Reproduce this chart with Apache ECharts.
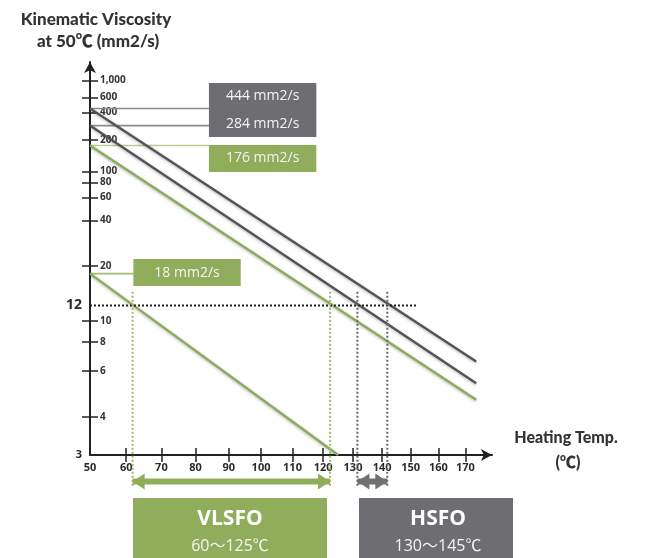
<!DOCTYPE html>
<html>
<head>
<meta charset="utf-8">
<title>Kinematic Viscosity</title>
<script src="https://cdn.jsdelivr.net/npm/echarts@6/dist/echarts.min.js"></script>
<style>
html, body { margin: 0; padding: 0; background: #fff; }
#main { width: 645px; height: 558px; }
</style>
</head>
<body>
<div id="main"></div>
<script>
// 粘温图 (ASTM D341 刻度: x = log(T+273.15), y = log(log(v+0.7)))
var oilLabels = ['444 mm2/s', '284 mm2/s', '176 mm2/s', '18 mm2/s'];
var visc50 = [444, 284, 176, 18];        // 50℃ 时粘度
var tempEnd = [174, 174, 174, 125];      // 线的终点温度
var viscEnd = [6.55, 5.35, 4.62, 3.0];   // 线的终点粘度
var leaderTemp = [84, 84, 84, 62];       // 引线到标签框的温度

var yTickValues = [4, 6, 8, 10, 20, 40, 60, 80, 100, 200, 400, 600, 1000];
var yBoldValues = [3, 12];
var xTickValues = [60, 70, 80, 90, 100, 110, 120, 130, 140, 150, 160, 170];
var xLabelValues = [50, 60, 70, 80, 90, 100, 110, 120, 130, 140, 150, 160, 170];

var limitVisc = 12;
var limitTempEnd = 152.5;
var vlsfoTemps = [61.8, 122.3];
var hsfoTemps = [131.5, 141.8];
var guideTopVisc = 14.2;
var guideBottomVisc = 2.4;
var arrowVisc = 2.5;

var tMin = 50, tMax = 180;
var vMin = 3, vMax = 1800;

// 样式
var oilColors = ['#545457', '#545457', '#8aaa5c', '#8aaa5c'];
var leaderColors = ['#8c8c8e', '#8c8c8e', '#b7cb92', '#9fba72'];
var boxColors = ['#6e6e72', '#6e6e72', '#8fad5b', '#8fad5b'];
var boxOffsets = [-12, -2, 13, -1];
var boxPadding = [[5, 17], [5, 17], [5, 17], [5, 21]];
var GREEN = '#8fad5b', GRAY = '#6e6e72';
var TICK_FONT = '"Open Sans"';

function fx(t) { return Math.log10(t + 273.15); }
function fy(v) { return Math.log10(Math.log10(v + 0.7)); }
function tempText(x) { return String(Math.round(Math.pow(10, x) - 273.15)); }
function viscNum(y) { return Math.round(Math.pow(10, Math.pow(10, y)) - 0.7); }
function viscText(y) {
    var n = viscNum(y);
    return n >= 1000 ? Math.floor(n / 1000) + ',' + String(n % 1000 + 1000).slice(1) : String(n);
}

var series = [];
for (var i = 0; i < visc50.length; i++) {
    // 引线 + 标签框
    series.push({
        type: 'line', silent: true, showSymbol: false, z: 2,
        data: [[fx(tMin), fy(visc50[i])], [fx(leaderTemp[i]), fy(visc50[i])]],
        lineStyle: { color: leaderColors[i], width: 1.6 },
        endLabel: {
            show: true,
            formatter: (function (t) { return function () { return t; }; })(oilLabels[i]),
            distance: 0,
            offset: [0, boxOffsets[i]],
            backgroundColor: boxColors[i],
            color: '#f4f4f4',
            padding: boxPadding[i],
            fontSize: 14,
            lineHeight: 17,
            fontFamily: '"Open Sans"'
        }
    });
    // 粘温线
    series.push({
        type: 'line', silent: true, showSymbol: false, z: 3,
        data: [[fx(tMin), fy(visc50[i])], [fx(tempEnd[i]), fy(viscEnd[i])]],
        lineStyle: { color: oilColors[i], width: 2.4, shadowBlur: 3, shadowColor: 'rgba(0,0,0,0.3)', shadowOffsetY: 1 }
    });
}

// 12 mm2/s 虚线
series.push({
    type: 'line', silent: true, showSymbol: false, z: 4,
    data: [[fx(tMin), fy(limitVisc)], [fx(limitTempEnd), fy(limitVisc)]],
    lineStyle: { type: 'dotted', color: '#222', width: 2 }
});

function guide(t, color) {
    return {
        type: 'line', silent: true, showSymbol: false, clip: false, z: 4,
        data: [[fx(t), fy(guideTopVisc)], [fx(t), fy(guideBottomVisc)]],
        lineStyle: { type: 'dotted', color: color, width: 2 }
    };
}
vlsfoTemps.forEach(function (t) { series.push(guide(t, '#9cb872')); });
hsfoTemps.forEach(function (t) { series.push(guide(t, '#6a6a6e')); });

function arrow(temps, color) {
    return {
        type: 'line', silent: true, clip: false, z: 5,
        symbol: 'triangle', symbolSize: [16, 12], showSymbol: true,
        data: [
            { value: [fx(temps[0]), fy(arrowVisc)], symbolRotate: 90, symbolOffset: [6, 0] },
            { value: [fx(temps[1]), fy(arrowVisc)], symbolRotate: -90, symbolOffset: [-6, 0] }
        ],
        lineStyle: { color: color, width: 6 },
        itemStyle: { color: color }
    };
}
series.push(arrow(vlsfoTemps, GREEN));
series.push(arrow(hsfoTemps, '#707074'));

var axisColor = '#222';
var myChart = echarts.init(document.getElementById('main'));
myChart.setOption({
    animation: false,
    grid: { left: 90, top: 62, width: 402, height: 393 },
    xAxis: [{
        type: 'value', min: fx(tMin), max: fx(tMax),
        axisLine: { show: true, onZero: false, symbol: ['none', 'arrow'], symbolSize: [9, 11], lineStyle: { color: axisColor, width: 2 } },
        axisTick: { show: true, customValues: xTickValues.map(fx), length: 7, lineStyle: { color: axisColor, width: 1.5 } },
        axisLabel: { customValues: xLabelValues.map(fx), formatter: tempText, margin: 7, color: '#2a2a2a', fontFamily: TICK_FONT, fontWeight: 'bold', fontSize: 11 },
        splitLine: { show: false }
    }, {
        type: 'value', position: 'bottom', min: fx(tMin), max: fx(tMax),
        axisLine: { show: false, onZero: false },
        axisTick: { show: true, inside: true, customValues: xTickValues.map(fx), length: 7, lineStyle: { color: axisColor, width: 1.5 } },
        axisLabel: { show: false },
        splitLine: { show: false }
    }],
    yAxis: [{
        type: 'value', min: fy(vMin), max: fy(vMax),
        axisLine: { show: true, onZero: false, symbol: ['none', 'arrow'], symbolSize: [9, 11], lineStyle: { color: axisColor, width: 2 } },
        axisTick: { show: true, customValues: yTickValues.map(fy), length: 8, lineStyle: { color: axisColor, width: 1.5 } },
        axisLabel: { customValues: yTickValues.map(fy), formatter: viscText, inside: true, margin: 10, color: '#333', fontFamily: TICK_FONT, fontWeight: 'bold', fontSize: 10 },
        splitLine: { show: false }
    }, {
        type: 'value', position: 'left', min: fy(vMin), max: fy(vMax),
        axisLine: { show: false, onZero: false },
        axisTick: { show: true, inside: true, customValues: yTickValues.map(fy), length: 8, lineStyle: { color: axisColor, width: 1.5 } },
        axisLabel: {
            customValues: yBoldValues.map(fy), margin: 8,
            formatter: function (y) { var n = viscNum(y); return n === 12 ? '{big|12}' : '{small|' + n + '}'; },
            rich: {
                big: { fontFamily: TICK_FONT, fontWeight: 'bold', fontSize: 14, color: '#2a2a2a' },
                small: { fontFamily: TICK_FONT, fontWeight: 'bold', fontSize: 11, color: '#2a2a2a' }
            }
        },
        splitLine: { show: false }
    }],
    graphic: [
        { type: 'text', x: 96, y: 20, style: { text: 'Kinematic Viscosity', textAlign: 'center', textVerticalAlign: 'middle', font: '900 17px Lato', fill: '#333' } },
        { type: 'text', x: 98, y: 41.5, style: { text: 'at 50\u2103 (mm2/s)', textAlign: 'center', textVerticalAlign: 'middle', font: '900 17px Lato, "Noto Sans CJK JP"', fill: '#333' } },
        { type: 'text', x: 566, y: 438, style: { text: 'Heating Temp.', textAlign: 'center', textVerticalAlign: 'middle', font: '900 16px Lato', fill: '#333' } },
        { type: 'text', x: 568, y: 462.5, style: { text: '(\u2103)', textAlign: 'center', textVerticalAlign: 'middle', font: '900 16px Lato, "Noto Sans CJK JP"', fill: '#333' } },
        { type: 'rect', shape: { x: 133, y: 498, width: 194, height: 70 }, style: { fill: GREEN } },
        { type: 'text', x: 230, y: 519, style: { text: 'VLSFO', textAlign: 'center', textVerticalAlign: 'middle', font: 'bold 21px "Open Sans"', fill: '#fff' } },
        { type: 'text', x: 230, y: 546, style: { text: '60\uff5e125\u2103', textAlign: 'center', textVerticalAlign: 'middle', font: '16px "Open Sans", "Noto Sans CJK JP"', fill: '#f4f4f4' } },
        { type: 'rect', shape: { x: 359, y: 498, width: 154, height: 70 }, style: { fill: GRAY } },
        { type: 'text', x: 438, y: 519, style: { text: 'HSFO', textAlign: 'center', textVerticalAlign: 'middle', font: 'bold 21px "Open Sans"', fill: '#fff' } },
        { type: 'text', x: 438, y: 546, style: { text: '130\uff5e145\u2103', textAlign: 'center', textVerticalAlign: 'middle', font: '16px "Open Sans", "Noto Sans CJK JP"', fill: '#f4f4f4' } }
    ],
    series: series
});
</script>
</body>
</html>
